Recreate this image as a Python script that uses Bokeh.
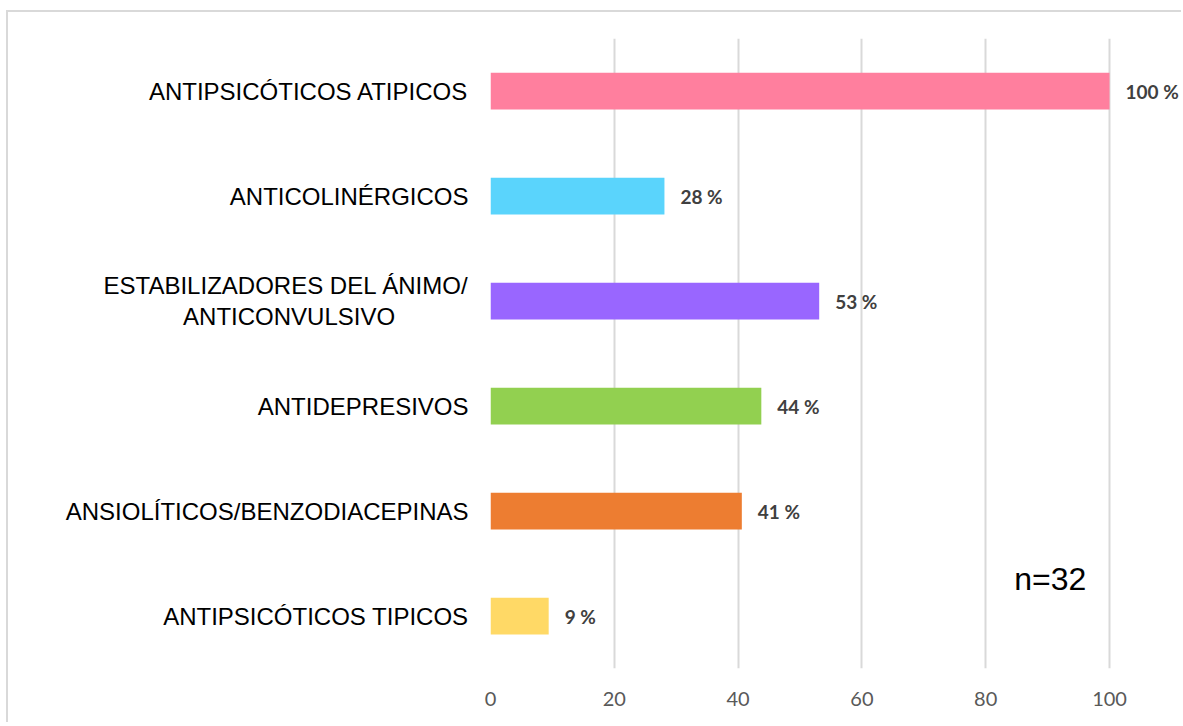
from bokeh.plotting import figure
from bokeh.models import ColumnDataSource, Range1d, FactorRange, FixedTicker, Label
from bokeh.embed import file_html
from bokeh.resources import INLINE
from bokeh.core.properties import value

categories = [
    "ANTIPSICÓTICOS ATIPICOS",
    "ANTICOLINÉRGICOS",
    "ESTABILIZADORES DEL ÁNIMO/\nANTICONVULSIVO",
    "ANTIDEPRESIVOS",
    "ANSIOLÍTICOS/BENZODIACEPINAS",
    "ANTIPSICÓTICOS TIPICOS",
]
percentages = [100.0, 28.1, 53.1, 43.75, 40.6, 9.4]
value_labels = ["100 %", "28 %", "53 %", "44 %", "41 %", "9 %"]
colors = ["#FF7F9E", "#5AD4FC", "#9966FF", "#92D050", "#ED7D31", "#FFD966"]
x_ticks = [0, 20, 40, 60, 80, 100]
note = "n=32"

# axis factors: second line of the two-line label padded so it reads centred
axis_factors = [c + "\u00a0" * 11 if "\n" in c else c for c in categories]

src = ColumnDataSource(dict(cat=axis_factors, pct=percentages, lab=value_labels, col=colors))

p = figure(
    width=1175, height=712,
    y_range=FactorRange(factors=axis_factors[::-1], range_padding=0),
    x_range=Range1d(0, 111.95),
    output_backend="svg", toolbar_location=None,
    min_border_left=482, min_border_top=26, min_border_bottom=56, min_border_right=0,
)
p.styles = {"border-left": "2px solid #d9d9d9", "border-top": "2px solid #d9d9d9",
            "margin-left": "6px", "margin-top": "10px"}
p.outline_line_color = None
p.background_fill_color = "white"

p.hbar(y="cat", right="pct", left=0, height=0.35, fill_color="col", line_color=None, source=src)
p.text(x="pct", y="cat", text="lab", x_offset=16, text_align="left", text_baseline="middle",
       text_font=value("Lato"), text_font_style="bold", text_font_size="19px",
       text_color="#404040", source=src)

p.add_layout(Label(x=84.6, y=0.857, text=note, text_font="Liberation Sans", text_font_size="32px",
                   text_color="#000000", text_baseline="middle", text_align="left"))

p.xaxis.ticker = FixedTicker(ticks=x_ticks)
p.xgrid.ticker = FixedTicker(ticks=x_ticks)
p.xgrid.grid_line_color = "#d9d9d9"
p.xgrid.grid_line_width = 2
p.ygrid.grid_line_color = None
p.xaxis.axis_line_color = None
p.xaxis.major_tick_line_color = None
p.xaxis.minor_tick_line_color = None
p.xaxis.major_label_standoff = 17
p.xaxis.major_label_text_font = "Lato"
p.xaxis.major_label_text_font_size = "20px"
p.xaxis.major_label_text_color = "#595959"

p.yaxis.axis_line_color = None
p.yaxis.major_tick_line_color = None
p.yaxis.major_label_standoff = 16
p.yaxis.major_label_text_font = "Liberation Sans"
p.yaxis.major_label_text_font_size = "24px"
p.yaxis.major_label_text_line_height = 1.15
p.yaxis.major_label_text_color = "#000000"

open("out.html", "w").write(file_html(p, INLINE))
